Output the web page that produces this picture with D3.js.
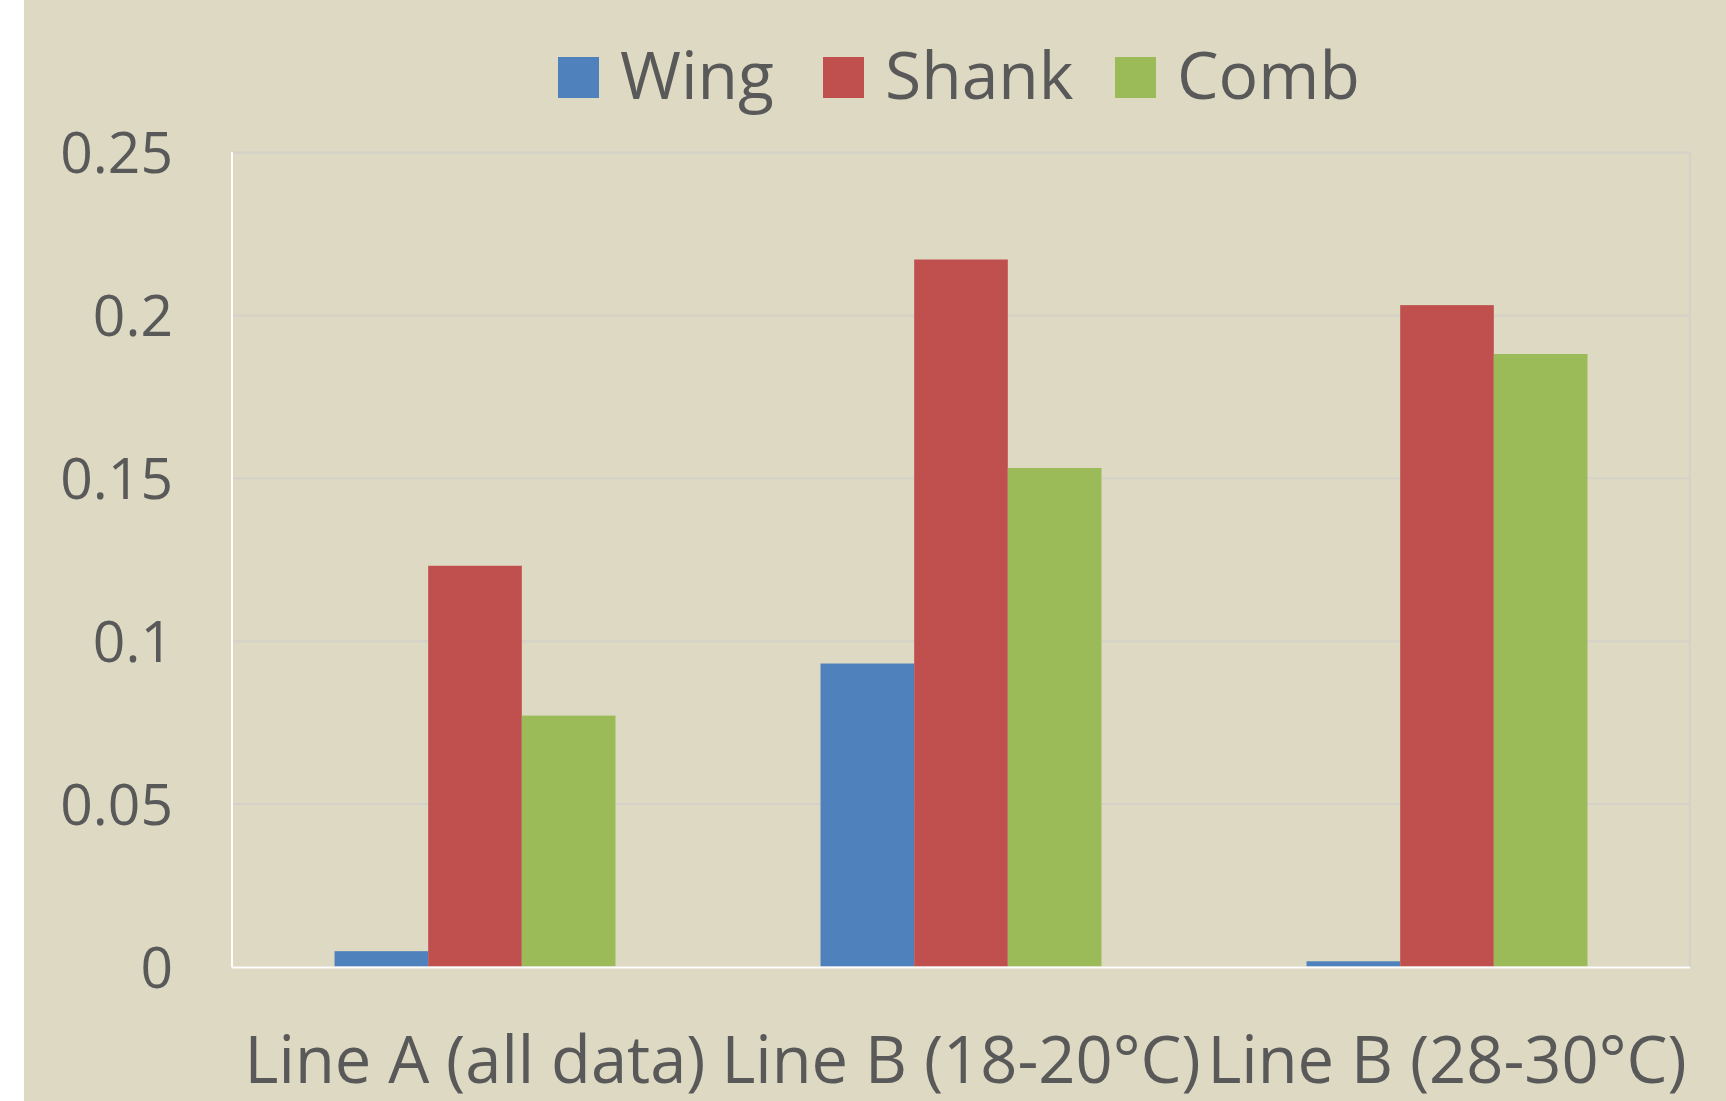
<!DOCTYPE html>
<html>
<head>
<meta charset="utf-8">
<script src="https://cdn.jsdelivr.net/npm/d3@7"></script>
<style>
  html, body { margin: 0; padding: 0; background: #fff; }
  svg text { font-family: "Open Sans", "Noto Sans", sans-serif; fill: #595959; }
</style>
</head>
<body>
<svg width="1726" height="1101"></svg>
<script>
const categories = ['Line A (all data)', 'Line B (18-20°C)', 'Line B (28-30°C)'];
const seriesNames = ['Wing', 'Shank', 'Comb'];
const wing = [0.0047, 0.093, 0.0016];
const shank = [0.123, 0.217, 0.203];
const comb = [0.077, 0.153, 0.188];
const yTicks = [0, 0.05, 0.1, 0.15, 0.2, 0.25];

const colors = { Wing: '#4F81BD', Shank: '#C0504D', Comb: '#9BBB59' };
const values = { Wing: wing, Shank: shank, Comb: comb };

const svg = d3.select('svg');
const W = +svg.attr('width'), H = +svg.attr('height');
const margin = { top: 152, left: 232, right: 36, bottom: 134.5 };
const width = W - margin.left - margin.right;
const height = H - margin.top - margin.bottom;

// background, with the white strip on the left
svg.append('rect').attr('x', 24).attr('y', 0).attr('width', W - 24).attr('height', H).attr('fill', '#DDD9C3');

const g = svg.append('g').attr('transform', `translate(${margin.left}, ${margin.top})`);

const x0 = d3.scaleBand().domain(categories).range([0, width]);
const x1 = d3.scaleBand().domain(seriesNames).range([0, x0.bandwidth()]).paddingOuter(1.095);
const y = d3.scaleLinear().domain([0, 0.25]).range([height, 0]);

// gridlines + tick labels
const yAxis = d3.axisLeft(y).tickValues(yTicks).tickSize(-width).tickPadding(59).tickFormat(d3.format('~g'));
g.append('g')
    .attr('class', 'axis axis--y')
    .call(yAxis)
    .call(a => {
        a.select('.domain').remove();
        a.selectAll('.tick line').attr('stroke', '#D4D2C8').attr('stroke-width', 2);
        a.selectAll('.tick text').attr('font-size', 57).attr('dy', '0.36em').attr('fill', '#595959');
    });

// right border of plot area
g.append('line')
    .attr('x1', width).attr('x2', width).attr('y1', 0).attr('y2', height)
    .attr('stroke', '#D4D2C8').attr('stroke-width', 2);

// bars
const group = g.selectAll('.cat')
    .data(categories)
    .enter().append('g')
    .attr('class', 'cat')
    .attr('transform', d => `translate(${x0(d)},0)`);

group.selectAll('rect')
    .data((c, i) => seriesNames.map(s => ({ s: s, v: values[s][i] })))
    .enter().append('rect')
    .attr('x', d => x1(d.s))
    .attr('width', x1.bandwidth())
    .attr('y', d => y(d.v))
    .attr('height', d => height - y(d.v))
    .attr('fill', d => colors[d.s]);

// axes lines (white)
g.append('line').attr('x1', 0).attr('x2', 0).attr('y1', 0).attr('y2', height + 1)
    .attr('stroke', '#fff').attr('stroke-width', 2);
g.append('line').attr('x1', 0).attr('x2', width).attr('y1', height + 1).attr('y2', height + 1)
    .attr('stroke', '#fff').attr('stroke-width', 2);

// category labels
const xAxis = d3.axisBottom(x0).tickSize(0).tickPadding(0);
g.append('g')
    .attr('transform', `translate(0, ${height})`)
    .call(xAxis)
    .call(a => {
        a.select('.domain').remove();
        a.selectAll('.tick text').attr('font-size', 65).attr('y', 116).attr('dy', 0).attr('fill', '#595959');
    });

// legend
const legendX = [558, 823, 1115];
const legend = svg.append('g').attr('class', 'legend');
seriesNames.forEach((s, i) => {
    const item = legend.append('g').attr('transform', `translate(${legendX[i]}, 57)`);
    item.append('rect').attr('width', 41).attr('height', 41).attr('fill', colors[s]);
    item.append('text').attr('x', 62).attr('y', 42).attr('font-size', 66).text(s);
});
</script>
</body>
</html>
